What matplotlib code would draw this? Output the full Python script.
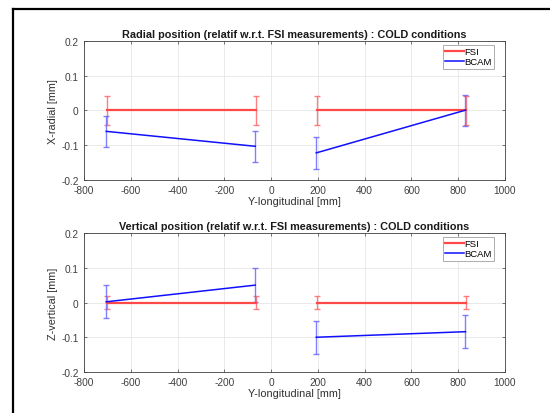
import numpy as np
import matplotlib
matplotlib.use('Agg')
from matplotlib import pyplot as plt
from matplotlib.lines import Line2D

plt.rcParams['font.family'] = ['Liberation Sans', 'DejaVu Sans']
plt.rcParams['axes.unicode_minus'] = False

# positions along the beam, two separate segments (NaN breaks the line)
fsi_y = [-703, -66, np.nan, 197, 835]
bcam_y = [-705, -68, np.nan, 193, 831]

# radial deviation relative to FSI
fsi_x = [0, 0, np.nan, 0, 0]
fsi_x_err = [0.043, 0.043, np.nan, 0.043, 0.043]
bcam_x = [-0.060, -0.103, np.nan, -0.122, 0.001]
bcam_x_err = [0.045, 0.045, np.nan, 0.045, 0.045]

# vertical deviation relative to FSI
fsi_z = [0, 0, np.nan, 0, 0]
fsi_z_err = [0.019, 0.019, np.nan, 0.019, 0.019]
bcam_z = [0.002, 0.050, np.nan, -0.100, -0.084]
bcam_z_err = [0.048, 0.048, np.nan, 0.048, 0.048]

titles = ['Radial position (relatif w.r.t. FSI measurements) : COLD conditions',
          'Vertical position (relatif w.r.t. FSI measurements) : COLD conditions']
ylabels = ['X-radial [mm]', 'Z-vertical [mm]']

fig = plt.figure(figsize=(5.5, 4.14), dpi=100)
ax1 = fig.add_axes([0.1527, 0.5628, 0.7655, 0.3358])
ax2 = fig.add_axes([0.1527, 0.0990, 0.7655, 0.3358])

panels = [(ax1, fsi_x, fsi_x_err, bcam_x, bcam_x_err),
          (ax2, fsi_z, fsi_z_err, bcam_z, bcam_z_err)]

for i, (ax, f, fe, b, be) in enumerate(panels):
    # error bars first, drawn pale, then the lines on top
    ax.errorbar(fsi_y, f, yerr=fe, fmt='none', ecolor='#ff6060', alpha=0.8,
                elinewidth=1.0, capsize=2, capthick=1.0)
    ax.errorbar(bcam_y, b, yerr=be, fmt='none', ecolor='#6060ff', alpha=0.8,
                elinewidth=1.0, capsize=2, capthick=1.0)
    ax.plot(fsi_y, f, color='#ff4848', lw=1.6, label='FSI')
    ax.plot(bcam_y, b, color='#1010ff', lw=1.1, label='BCAM')

    ax.set_xlim(-800, 1000)
    ax.set_ylim(-0.2, 0.2)
    ax.set_xticks(range(-800, 1001, 200))
    ax.set_yticks([-0.2, -0.1, 0, 0.1, 0.2])
    ax.set_yticklabels(['-0.2', '-0.1', '0', '0.1', '0.2'])
    ax.grid(True, color='#e6e6e6', lw=0.6)
    ax.set_axisbelow(True)
    ax.tick_params(direction='in', length=2.5, width=0.5, colors='#404040',
                   labelsize=7.3, top=True, right=True)
    ax.tick_params(axis='x', pad=3.5)
    ax.tick_params(axis='y', pad=4)
    for s in ax.spines.values():
        s.set_color('#404040')
        s.set_linewidth(0.6)

    ax.set_title(titles[i], fontsize=7.8, fontweight='bold', color='#1a1a1a', pad=3)
    ax.set_ylabel(ylabels[i], fontsize=7.8, color='#303030', labelpad=2)
    ax.set_xlabel('Y-longitudinal [mm]', fontsize=7.8, color='#303030', labelpad=1)

    leg = ax.legend(loc='upper right', bbox_to_anchor=(0.974, 0.971),
                    fontsize=6.8, handlelength=2.0, handletextpad=0.0,
                    borderpad=0.25, labelspacing=0.1, fancybox=False,
                    framealpha=1, borderaxespad=0)
    leg.get_frame().set_edgecolor('#a0a0a0')
    leg.get_frame().set_linewidth(0.6)

# page frame around the figure
fig.add_artist(Line2D([13 / 550, 13 / 550], [0, 1 - 10 / 414], color='black', lw=1.6))
fig.add_artist(Line2D([13 / 550, 1], [1 - 10 / 414, 1 - 10 / 414], color='black', lw=1.6))

plt.savefig('out.png', dpi=100)
